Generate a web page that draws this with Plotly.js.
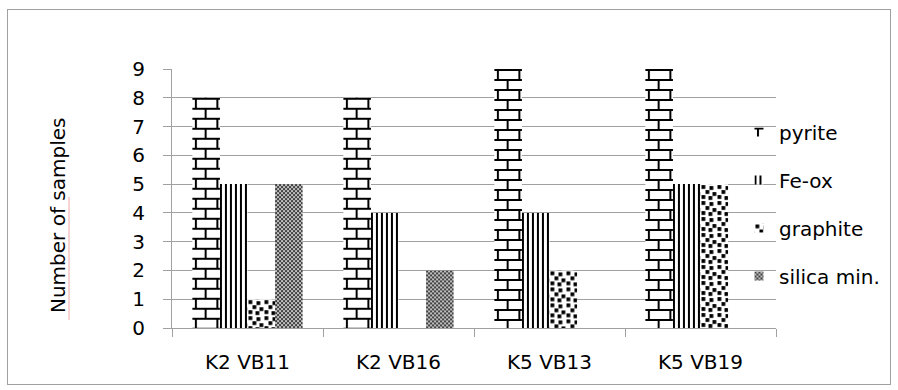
<!DOCTYPE html>
<html>
<head>
<meta charset="utf-8">
<script src="https://cdn.plot.ly/plotly-3.0.1.min.js"></script>
<style>
  html, body { margin: 0; padding: 0; background: #ffffff; }
  #wrap { position: relative; width: 898px; height: 390px; }
  #chart { position: absolute; left: 0; top: 0; width: 898px; height: 390px; }
  #frame { position: absolute; left: 7px; top: 9px; width: 884px; height: 376px;
           box-sizing: border-box; border: 1px solid #a0a0a0; pointer-events: none; }
</style>
</head>
<body>
<div id="wrap"><div id="chart"></div><div id="frame"></div></div>
<script>
// Sample counts per borehole interval
const categories = ['K2 VB11', 'K2 VB16', 'K5 VB13', 'K5 VB19'];
const seriesNames = ['pyrite', 'Fe-ox', 'graphite', 'silica min.'];
const pyrite    = [8, 8, 9, 9];
const feOx      = [5, 4, 4, 5];
const graphite  = [1, 0, 2, 5];
const silicaMin = [5, 2, 0, 0];
const yTicks    = [0, 1, 2, 3, 4, 5, 6, 7, 8, 9];
const yTitle    = 'Number of samples';

const seriesValues = [pyrite, feOx, graphite, silicaMin];
const fallbackShapes = ['+', '|', '.', 'x'];

const traces = seriesValues.map((vals, i) => ({
  type: 'bar',
  name: seriesNames[i],
  x: categories,
  y: vals,
  legendgroup: 'g' + i,
  marker: {
    color: '#ffffff',
    line: { width: 0 },
    pattern: { shape: fallbackShapes[i], fgcolor: '#000000', bgcolor: '#ffffff', size: 6, solidity: 0.4 }
  },
  hoverinfo: 'skip'
}));

const GRID = '#a0a0a0';

const layout = {
  width: 898,
  height: 390,
  margin: { l: 172, r: 122, t: 69, b: 62, pad: 0 },
  paper_bgcolor: 'rgba(0,0,0,0)',
  plot_bgcolor: 'rgba(0,0,0,0)',
  font: { family: 'DejaVu Sans', size: 20, color: '#000000' },
  barmode: 'group',
  bargap: 0.27,
  bargroupgap: 0,
  showlegend: true,
  legend: {
    x: 0.9387, xanchor: 'left',
    y: 0.832, yanchor: 'top',
    bgcolor: 'rgba(0,0,0,0)',
    borderwidth: 0,
    tracegroupgap: 19,
    font: { family: 'DejaVu Sans', size: 20, color: '#000000' }
  },
  xaxis: {
    type: 'category',
    showline: true, linecolor: GRID, linewidth: 1,
    ticks: 'outside', tickson: 'boundaries', ticklen: 8, tickcolor: GRID, tickwidth: 1,
    showgrid: false, zeroline: false,
    ticklabelstandoff: 16,
    tickfont: { family: 'DejaVu Sans', size: 20, color: '#000000' },
    fixedrange: true
  },
  yaxis: {
    range: [0, 9],
    tickmode: 'array',
    tickvals: yTicks,
    ticktext: yTicks.map(String),
    showgrid: true, gridcolor: GRID, gridwidth: 1,
    showline: true, linecolor: GRID, linewidth: 1,
    ticks: 'outside', ticklen: 8, tickcolor: GRID, tickwidth: 1,
    zeroline: false,
    ticklabelstandoff: 14,
    tickfont: { family: 'DejaVu Sans', size: 20, color: '#000000' },
    fixedrange: true
  },
  annotations: [{
    text: yTitle,
    xref: 'paper', yref: 'paper',
    x: -0.1887, y: 0.4324,
    xanchor: 'center', yanchor: 'middle',
    textangle: -90,
    showarrow: false,
    font: { family: 'DejaVu Sans', size: 20, color: '#000000' }
  }],
  shapes: [{
    // spell-check underline beneath the first words of the axis label
    type: 'line', xref: 'paper', yref: 'paper',
    x0: -0.1705, x1: -0.1705, y0: 0.031, y1: 0.506,
    line: { color: '#f0a8a8', width: 1 }
  }]
};

// ---- monochrome fill tiles ----
const SVGNS = 'http://www.w3.org/2000/svg';
function el(tag, attrs) {
  const e = document.createElementNS(SVGNS, tag);
  for (const k in attrs) e.setAttribute(k, attrs[k]);
  return e;
}
function rect(p, x, y, w, h, c) { p.appendChild(el('rect', { x, y, width: w, height: h, fill: c })); }

const tiles = [
  { // horizontal brick
    w: 21.5, h: 20, ox: 2.5, oy: 0,
    draw(p) {
      rect(p, 0, 0, 21.5, 20, '#ffffff');
      rect(p, 0, 0, 21.5, 2, '#000000');
      rect(p, 0, 10, 21.5, 2, '#000000');
      rect(p, 0, 0, 2, 12, '#000000');
      rect(p, 9.75, 10, 2, 12, '#000000');
    }
  },
  { // vertical stripes
    w: 5, h: 5, ox: 0, oy: 0,
    draw(p) {
      rect(p, 0, 0, 5, 5, '#ffffff');
      rect(p, 0, 0, 2, 5, '#000000');
    }
  },
  { // large confetti
    w: 16, h: 16, ox: 0, oy: 0,
    draw(p) {
      rect(p, 0, 0, 16, 16, '#ffffff');
      [[1, 1], [9, 2], [5, 6], [12, 8], [1, 11], [8, 12]].forEach(([x, y]) => rect(p, x, y, 3.8, 3.8, '#000000'));
    }
  },
  { // fine checker
    w: 4, h: 4, ox: 0, oy: 0,
    draw(p) {
      rect(p, 0, 0, 4, 4, '#c0c0c0');
      rect(p, 0, 0, 2, 2, '#404040');
      rect(p, 2, 2, 2, 2, '#404040');
    }
  }
];

function applyFills(gd) {
  const svg = gd.querySelector('.main-svg');
  const defs = el('defs', {});
  svg.insertBefore(defs, svg.firstChild);
  let n = 0;
  function paint(path, tile) {
    const bb = path.getBBox();
    if (!(bb.width > 0 && bb.height > 0)) return;
    const id = 'tilefill' + (n++);
    const pat = el('pattern', {
      id, patternUnits: 'userSpaceOnUse',
      x: bb.x + tile.ox, y: bb.y + tile.oy, width: tile.w, height: tile.h
    });
    tile.draw(pat);
    defs.appendChild(pat);
    path.style.fill = 'url(#' + id + ')';
    path.style.fillOpacity = 1;
    path.style.stroke = 'none';
  }
  gd.querySelectorAll('.barlayer .trace.bars').forEach((g, i) => {
    g.querySelectorAll('.point path').forEach(p => paint(p, tiles[i]));
  });
  gd.querySelectorAll('.legend .traces').forEach((g, i) => {
    const p = g.querySelector('.legendpoints path');
    if (!p) return;
    p.setAttribute('d', 'M4.5,4.5H-4.5V-4.5H4.5Z');
    paint(p, tiles[i]);
  });
}

Plotly.newPlot('chart', traces, layout, { displayModeBar: false, staticPlot: true })
  .then(applyFills);
</script>
</body>
</html>
